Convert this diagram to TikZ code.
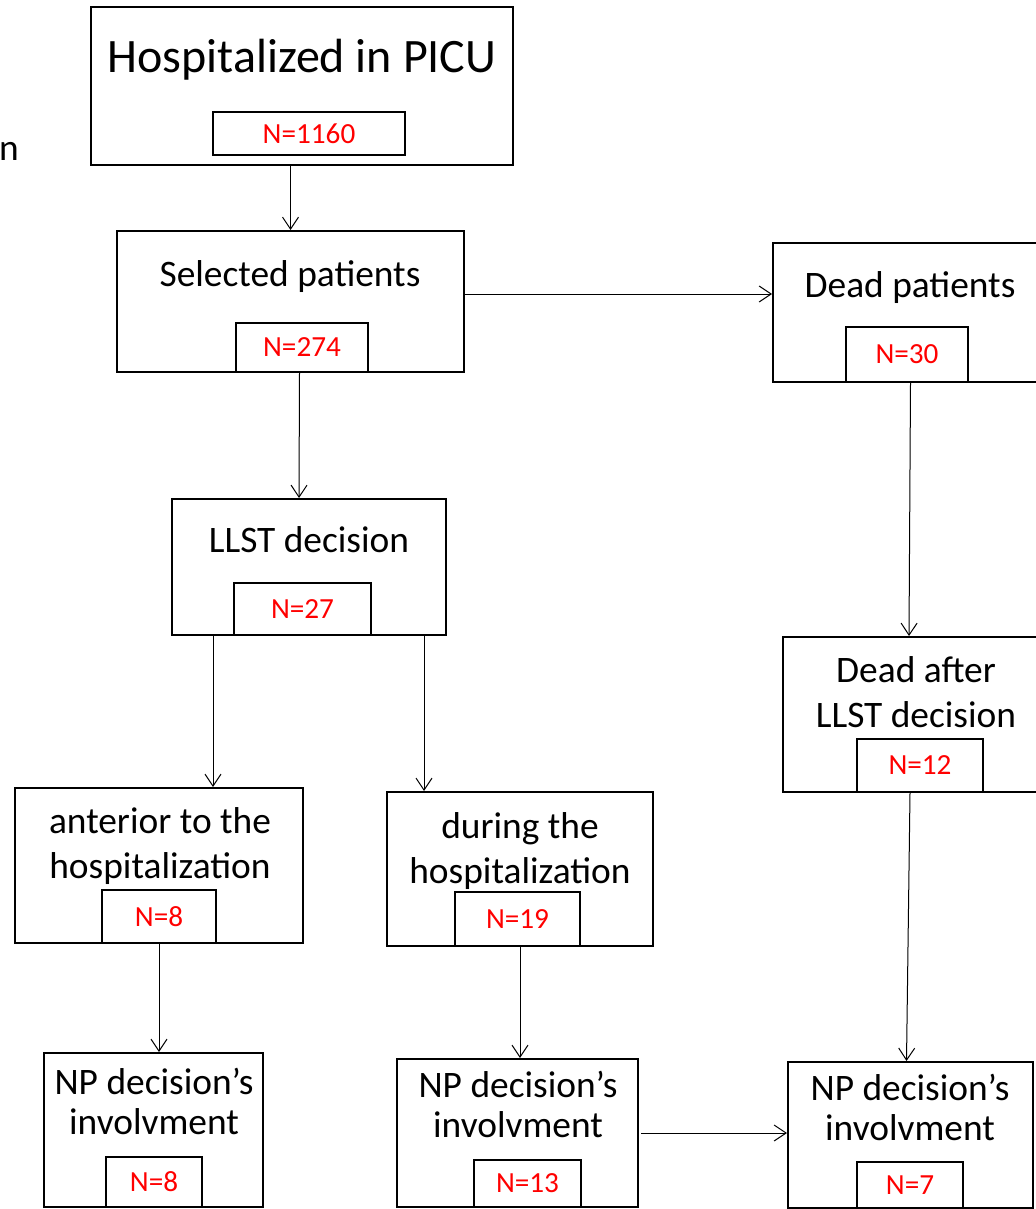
\documentclass[tikz,border=0pt]{standalone}
\usepackage{fontspec}
\setmainfont{Carlito}
\usetikzlibrary{arrows.meta,positioning,calc,fit}

\tikzset{
  box/.style={draw, line width=1pt, inner sep=0pt},
  nbox/.style={draw, line width=1pt, inner sep=0pt, text=red, font=\fontsize{14.6}{16}\selectfont},
  txt/.style={anchor=base, align=center, font=\fontsize{18.7}{22.5}\selectfont},
  nptxt/.style={txt, font=\fontsize{18.7}{19.75}\selectfont},
  arr/.style={-{Straight Barb[length=6pt,width=8pt]}, line width=0.5pt},
}

\begin{document}
\begin{tikzpicture}[x=0.5pt,y=-0.5pt]
\useasboundingbox (0,0) rectangle (1036,1209);
% cut letter at the left margin
\node[txt] (cut) at (9,161) {n};

% top
\node[box, fit={(91,7) (513,165)}] (hosp) {};
\node[txt, font=\fontsize{24}{27}\selectfont] (hospT) at (302,73) {Hospitalized in PICU};
\node[nbox, minimum width=96pt, minimum height=21.5pt] (hospN) at (309,133.5) {N=1160};

\node[box, fit={(117,231) (464,372)}] (sel) {};
\node[txt] (selT) at (290,286) {Selected patients};
\node[nbox, minimum width=66pt, minimum height=24.5pt] (selN) at (302,347.5) {N=274};

\node[box, fit={(773,243) (1048,382)}] (dead) {};
\node[txt] (deadT) at (910,297) {Dead patients};
\node[nbox, minimum width=61pt, minimum height=27.5pt] (deadN) at (907,354.5) {N=30};

% middle
\node[box, fit={(172,499) (446,635)}] (llst) {};
\node[txt] (llstT) at (309,552) {LLST decision};
\node[nbox, minimum width=68.5pt, minimum height=26pt] (llstN) at (302.5,609) {N=27};

\node[box, fit={(783,637) (1049,792)}] (deadll) {};
\node[txt] (deadllT) at (916,727) {Dead after\\LLST decision};
\node[nbox, minimum width=63pt, minimum height=26.5pt] (deadllN) at (920,765.5) {N=12};

\node[box, fit={(15,788) (303,943)}] (ant) {};
\node[txt] (antT) at (160,878) {anterior to the\\hospitalization};
\node[nbox, minimum width=57pt, minimum height=26.5pt] (antN) at (159,916.5) {N=8};

\node[box, fit={(387,792) (653,946)}] (dur) {};
\node[txt] (durT) at (520,883) {during the\\hospitalization};
\node[nbox, minimum width=62.5pt, minimum height=27pt] (durN) at (517.5,919) {N=19};

% bottom
\node[box, fit={(44,1053) (263,1207)}] (npa) {};
\node[nptxt] (npaT) at (154,1134) {NP decision’s\\involvment};
\node[nbox, minimum width=48pt, minimum height=25pt] (npaN) at (154,1182) {N=8};

\node[box, fit={(397,1059) (638,1207)}] (npd) {};
\node[nptxt] (npdT) at (518,1137) {NP decision’s\\involvment};
\node[nbox, minimum width=53.5pt, minimum height=23.5pt] (npdN) at (527.5,1183.5) {N=13};

\node[box, fit={(788,1062) (1033,1208)}] (npr) {};
\node[nptxt] (nprT) at (910,1140) {NP decision’s\\involvment};
\node[nbox, minimum width=53pt, minimum height=23pt] (nprN) at (910,1185) {N=7};

% arrows
\draw[arr] (hosp.south -| sel.north) -- (sel.north);
\draw[arr] ($(sel.east)+(0,-7.5)$) coordinate (s1) -- (s1 -| dead.west);
\draw[arr] ($(sel.south)+(9,0)$) -- ($(llst.north)+(-10,0)$);
\draw[arr] (dead.south) -- ($(deadll.north)+(-7,0)$);
\draw[arr] ($(llst.south)+(-96,0)$) -- ($(ant.north)+(54,0)$);
\draw[arr] ($(llst.south)+(115,0)$) -- ($(dur.north)+(-96,0)$);
\draw[arr] (ant.south) -- (ant.south |- npa.north);
\draw[arr] (dur.south) -- (dur.south |- npd.north);
\draw[arr] ($(deadll.south)+(-6,0)$) -- ($(npr.north)+(-4,0)$);
\draw[arr] ($(npd.east)+(2,0)$) coordinate (s2) -- (s2 -| npr.west);
\end{tikzpicture}
\end{document}
